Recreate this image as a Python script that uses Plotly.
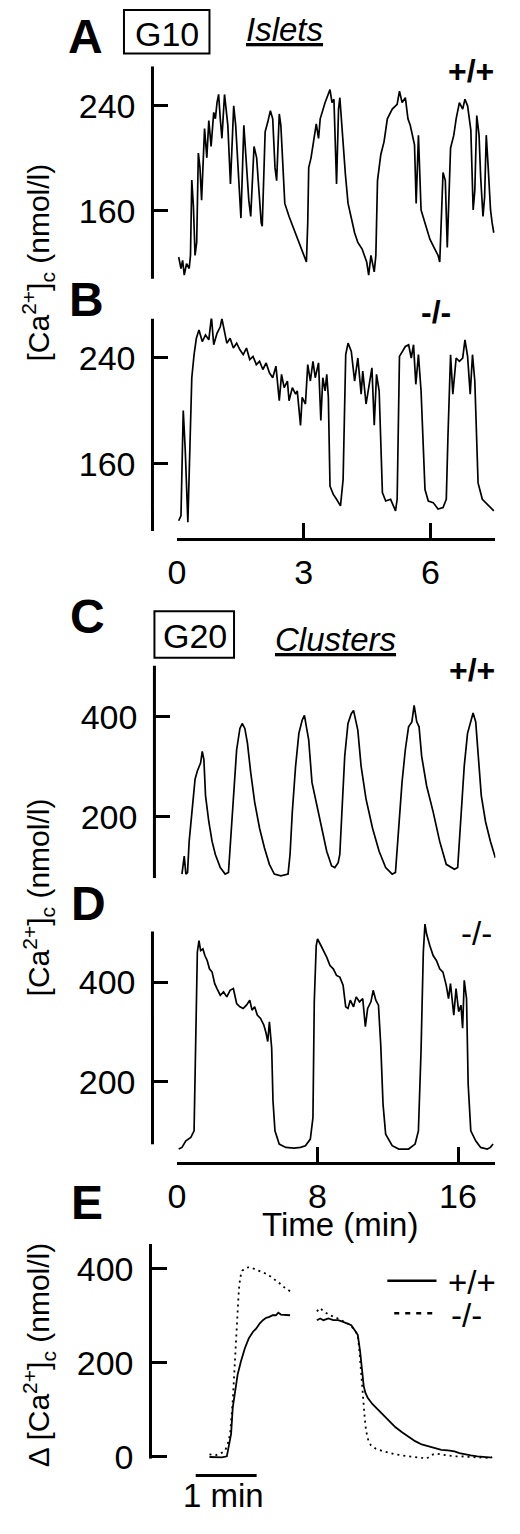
import plotly.graph_objects as go

W, H = 520, 1534
FONT = "Liberation Sans, Arial, Helvetica, sans-serif"

# ---------------- data (time in min, [Ca2+]c in nmol/l) ----------------
A_t = [0.039, 0.093, 0.132, 0.171, 0.225, 0.287, 0.318, 0.349, 0.388, 0.426, 0.465, 0.504, 0.543, 0.581,
       0.651, 0.705, 0.752, 0.806, 0.868, 0.907, 0.946, 0.984, 1.023, 1.062, 1.124, 1.163, 1.202, 1.264,
       1.341, 1.388, 1.465, 1.512, 1.581, 1.628, 1.698, 1.744, 1.822, 1.884, 1.992, 2.016, 2.085, 2.147,
       2.209, 2.264, 2.318, 2.357, 2.419, 2.457, 2.550, 2.651, 2.767, 2.884, 2.961, 3.000, 3.062, 3.093,
       3.116, 3.171, 3.233, 3.295, 3.349, 3.388, 3.504, 3.558, 3.620, 3.667, 3.713, 3.775, 3.822, 3.853,
       3.930, 3.984, 4.047, 4.109, 4.202, 4.279, 4.380, 4.488, 4.535, 4.589, 4.667, 4.705, 4.744, 4.822,
       4.899, 4.977, 5.093, 5.209, 5.264, 5.326, 5.403, 5.465, 5.519, 5.620, 5.659, 5.713, 5.775, 5.868,
       5.984, 6.101, 6.178, 6.217, 6.295, 6.349, 6.395, 6.473, 6.550, 6.605, 6.682, 6.760, 6.814, 6.876,
       6.953, 7.008, 7.047, 7.093, 7.147, 7.186, 7.240, 7.279, 7.318, 7.364, 7.419, 7.457, 7.496]
A_ca = [124.5, 115.8, 122.0, 110.8, 119.5, 115.8, 125.8, 183.4, 163.0, 125.8, 135.7, 204.0, 192.8, 168.0,
        222.6, 200.3, 228.8, 209.0, 235.0, 230.1, 242.5, 248.7, 230.1, 215.2, 248.7, 237.5, 225.1, 180.4,
        240.0, 225.1, 175.4, 154.3, 225.1, 200.3, 168.0, 155.5, 209.0, 200.3, 150.6, 148.1, 220.1, 227.6,
        236.3, 230.1, 192.8, 182.9, 233.8, 225.1, 165.5, 155.5, 145.6, 135.7, 128.2, 125.8, 120.8, 150.6,
        192.8, 200.3, 215.2, 226.3, 215.2, 230.1, 242.5, 247.5, 252.4, 242.5, 245.0, 180.4, 237.5, 246.2,
        210.2, 187.8, 165.5, 155.5, 143.1, 135.7, 130.7, 120.8, 110.8, 125.8, 113.3, 125.8, 182.9, 202.7,
        212.7, 230.1, 237.5, 241.2, 251.2, 242.5, 246.2, 230.1, 225.1, 210.2, 165.5, 217.6, 160.5, 150.6,
        138.2, 130.7, 125.8, 120.8, 189.1, 182.9, 131.9, 207.7, 217.6, 230.1, 242.5, 237.5, 245.0, 240.0,
        221.4, 160.5, 175.4, 232.6, 217.6, 185.4, 155.5, 170.5, 217.6, 192.8, 160.5, 150.6, 143.1]

B_t = [0.039, 0.093, 0.147, 0.194, 0.256, 0.302, 0.349, 0.403, 0.457, 0.519, 0.597, 0.674, 0.752, 0.814,
       0.868, 0.946, 1.023, 1.062, 1.124, 1.178, 1.256, 1.333, 1.411, 1.488, 1.566, 1.643, 1.721, 1.798,
       1.876, 1.953, 2.031, 2.109, 2.186, 2.264, 2.341, 2.419, 2.473, 2.535, 2.612, 2.651, 2.729, 2.806,
       2.845, 2.922, 2.961, 3.039, 3.093, 3.155, 3.217, 3.271, 3.349, 3.403, 3.450, 3.504, 3.543, 3.581,
       3.620, 3.698, 3.775, 3.868, 3.930, 3.992, 4.047, 4.124, 4.202, 4.279, 4.357, 4.395, 4.473, 4.550,
       4.612, 4.667, 4.721, 4.783, 4.860, 4.938, 5.054, 5.171, 5.209, 5.264, 5.326, 5.403, 5.481, 5.543,
       5.597, 5.651, 5.713, 5.775, 5.868, 5.946, 6.062, 6.178, 6.295, 6.372, 6.411, 6.473, 6.527, 6.605,
       6.682, 6.760, 6.814, 6.876, 6.938, 6.992, 7.047, 7.124, 7.225, 7.341, 7.457, 7.496]
B_ca = [117.0, 120.8, 200.3, 170.4, 115.8, 163.0, 225.1, 242.5, 254.9, 261.1, 252.4, 257.4, 253.7, 271.1,
        250.0, 258.6, 263.6, 269.8, 259.9, 251.2, 254.9, 247.5, 251.2, 246.2, 242.5, 247.5, 238.8, 241.2,
        235.0, 237.5, 231.3, 236.3, 228.8, 225.1, 233.8, 207.7, 227.6, 217.6, 222.6, 207.7, 217.6, 212.7,
        215.2, 189.1, 210.2, 205.2, 235.0, 222.6, 237.5, 225.1, 236.3, 192.8, 225.1, 215.2, 227.6, 210.2,
        143.1, 136.9, 133.2, 128.2, 148.1, 242.5, 251.2, 245.0, 222.6, 240.0, 212.7, 230.1, 205.2, 220.1,
        232.6, 189.1, 227.6, 215.2, 138.2, 131.9, 133.2, 124.5, 133.2, 241.2, 245.0, 248.7, 250.0, 240.0,
        250.0, 220.1, 242.5, 215.2, 140.6, 131.9, 130.7, 125.8, 127.0, 133.2, 180.4, 242.5, 212.7, 240.0,
        237.5, 240.0, 253.7, 241.2, 212.7, 242.5, 222.6, 145.6, 133.2, 129.5, 125.8, 124.5]

C_t = [0.280, 0.410, 0.503, 0.597, 0.690, 0.876, 1.026, 1.156, 1.343, 1.436, 1.529, 1.622, 1.809, 1.995,
       2.182, 2.462, 2.741, 2.928, 3.021, 3.207, 3.394, 3.580, 3.711, 3.860, 4.009, 4.196, 4.420, 4.699,
       4.979, 5.259, 5.538, 5.911, 6.322, 6.434, 6.564, 6.751, 6.937, 7.124, 7.254, 7.366, 7.497, 7.683,
       7.963, 8.242, 8.522, 8.802, 8.988, 9.175, 9.268, 9.361, 9.548, 9.734, 9.921, 10.051, 10.163, 10.294,
       10.480, 10.760, 11.133, 11.506, 11.879, 12.252, 12.438, 12.625, 12.811, 12.998, 13.184, 13.371,
       13.501, 13.650, 13.781, 13.930, 14.210, 14.583, 14.956, 15.329, 15.795, 15.981, 16.168, 16.354,
       16.541, 16.727, 16.858, 17.007, 17.138, 17.324, 17.567, 17.846, 18.126]
C_ca = [85.3, 121.3, 85.3, 88.5, 150.8, 229.5, 275.4, 291.8, 308.2, 331.2, 314.8, 242.6, 190.2, 150.8,
        124.6, 98.4, 85.3, 88.5, 137.7, 255.8, 334.4, 377.1, 386.9, 377.1, 347.6, 288.5, 229.5, 177.1,
        137.7, 104.9, 85.3, 82.0, 85.3, 124.6, 209.9, 301.7, 367.2, 393.5, 403.3, 380.3, 354.1, 268.9,
        223.0, 177.1, 131.2, 101.7, 98.4, 108.2, 124.6, 190.2, 321.3, 386.9, 406.6, 413.1, 396.7, 373.8,
        301.7, 236.1, 177.1, 131.2, 98.4, 85.3, 88.5, 190.2, 268.9, 334.4, 380.3, 390.2,
        423.0, 390.2, 380.3, 321.3, 262.3, 209.9, 150.8, 104.9, 95.1, 98.4, 190.2, 301.7,
        367.2, 393.5, 407.9, 390.2, 334.4, 242.6, 190.2, 150.8, 118.1]

D_t = [0.093, 0.280, 0.503, 0.783, 0.970, 1.063, 1.156, 1.249, 1.343, 1.473, 1.585, 1.716, 1.846, 1.995,
       2.145, 2.275, 2.462, 2.648, 2.834, 3.021, 3.207, 3.394, 3.580, 3.767, 3.953, 4.140, 4.270, 4.420,
       4.569, 4.755, 4.942, 5.072, 5.166, 5.259, 5.389, 5.464, 5.576, 5.818, 6.191, 6.657, 7.030, 7.310,
       7.590, 7.739, 7.814, 7.925, 8.000, 8.149, 8.336, 8.522, 8.709, 8.895, 9.082, 9.268, 9.455, 9.604,
       9.734, 9.865, 10.051, 10.200, 10.387, 10.573, 10.723, 10.853, 11.040, 11.170, 11.319, 11.469,
       11.599, 11.730, 11.879, 12.252, 12.625, 13.184, 13.557, 13.744, 13.893, 14.023, 14.117, 14.210,
       14.396, 14.583, 14.769, 14.956, 15.142, 15.329, 15.459, 15.571, 15.758, 15.888, 16.037, 16.168,
       16.261, 16.354, 16.485, 16.578, 16.727, 17.007, 17.287, 17.660, 17.846, 17.995]
D_ca = [65.5, 68.8, 82.1, 88.7, 101.9, 260.9, 459.6, 482.8, 462.9, 466.2, 453.0, 443.1, 426.5, 419.9,
        396.7, 386.8, 373.5, 380.1, 370.2, 383.4, 386.8, 357.0, 350.3, 347.0, 353.6, 363.6, 343.7, 350.3,
        333.8, 327.1, 313.9, 297.3, 280.8, 320.5, 267.5, 161.6, 101.9, 75.5, 68.8, 67.5, 68.8, 72.2,
        85.4, 128.5, 360.3, 472.8, 486.1, 476.1, 462.9, 449.7, 433.1, 426.5, 413.2, 409.9, 393.4, 350.3,
        347.0, 363.6, 350.3, 370.2, 360.3, 366.9, 310.6, 347.0, 360.3, 383.4, 363.6, 353.6,
        274.2, 154.9, 95.3, 72.2, 65.5, 65.5, 75.5, 101.9, 260.9, 459.6, 515.9, 496.0,
        472.8, 453.0, 443.1, 426.5, 419.9, 393.4, 366.9, 396.7, 333.8, 386.8, 340.4, 353.6,
        307.3, 403.3, 366.9, 194.7, 101.9, 82.1, 68.8, 65.5, 68.8, 75.5]

# Panel E: mean delta [Ca2+]c, time in min (None = gap between the two segments)
E_t = [0.000, 0.097, 0.177, 0.258, 0.301, 0.339, 0.382, 0.409, 0.435, 0.462, 0.484, 0.505, 0.538, 0.581,
       0.634, 0.688, 0.742, 0.823, 0.903, 0.984, 1.065, 1.145, 1.226, 1.306, 1.344, 1.55,
       1.763, 1.817, 1.871, 1.925, 1.978, 2.086, 2.194, 2.301, 2.382, 2.435, 2.462, 2.489, 2.516, 2.543,
       2.570, 2.608, 2.651, 2.731, 2.839, 2.946, 3.054, 3.161, 3.269, 3.376, 3.484, 3.565, 3.618, 3.672,
       3.726, 3.806, 3.914, 4.022, 4.129, 4.237, 4.344, 4.452, 4.559, 4.640]
E_ko = [4.9, 2.8, 6.3, 13.3, 27.4, 48.4, 118.6, 174.7, 237.9, 308.1, 357.2, 381.8, 395.8, 400.7,
        402.8, 402.8, 399.3, 395.8, 390.9, 385.3, 378.3, 369.8, 360.7, 353.7, 350.2, None,
        309.5, 316.5, 309.5, 304.6, 301.1, 295.5, 288.4, 281.4, 269.5, 259.0, 223.9, 174.7, 139.7, 90.5,
        55.4, 34.4, 23.9, 16.8, 11.9, 7.7, 4.9, 2.8, 0.7, -0.7, -2.8, -4.2, 0.7, 4.9,
        6.3, 4.9, 2.8, 0.7, 0.7, -0.7, -2.1, -2.1, -2.8, -0.7]
E_wt_t = [0.000, 0.097, 0.204, 0.285, 0.323, 0.355, 0.382, 0.419, 0.462, 0.516, 0.581, 0.645, 0.715, 0.769,
          0.823, 0.876, 0.930, 0.984, 1.038, 1.091, 1.129, 1.172, 1.226, 1.290, 1.323, 1.55,
          1.763, 1.817, 1.871, 1.952, 2.032, 2.113, 2.194, 2.274, 2.328, 2.382, 2.435, 2.473, 2.505, 2.532,
          2.559, 2.597, 2.677, 2.758, 2.839, 2.946, 3.054, 3.161, 3.269, 3.376, 3.484, 3.591, 3.699, 3.806,
          3.914, 4.022, 4.102, 4.183, 4.290, 4.398, 4.505, 4.586, 4.640]
E_wt = [-0.7, -1.4, -1.4, 0.7, 27.4, 48.4, 104.6, 139.7, 174.7, 202.8, 230.9, 251.9, 266.0, 273.0,
        283.5, 290.5, 295.5, 297.6, 301.1, 301.1, 306.7, 302.5, 302.5, 301.1, 301.1, None,
        290.5, 294.1, 290.5, 294.1, 290.5, 290.5, 287.0, 283.5, 280.0, 269.5, 259.0, 223.9, 174.7, 150.2,
        136.1, 125.6, 111.6, 101.1, 90.5, 76.5, 62.5, 51.9, 41.4, 33.0, 26.0, 21.8, 18.2, 14.7,
        13.3, 11.2, 7.7, 4.9, 2.8, 0.7, -0.7, -0.7, -2.1]

# tick labels
ticks_islets = [160, 240]
ticks_clusters = [200, 400]
ticks_delta = [0, 200, 400]
xt_islets = [0, 3, 6]
xt_clusters = [0, 8, 16]


# ---------------- layout helpers (pixel -> paper) ----------------
def px(x):
    return x / W


def py(y):
    return 1 - y / H


fig = go.Figure()
line = dict(color="black", width=1.7)
fig.add_trace(go.Scatter(x=A_t, y=A_ca, mode="lines", line=line, xaxis="x", yaxis="y"))
fig.add_trace(go.Scatter(x=B_t, y=B_ca, mode="lines", line=line, xaxis="x2", yaxis="y2"))
fig.add_trace(go.Scatter(x=C_t, y=C_ca, mode="lines", line=line, xaxis="x3", yaxis="y3"))
fig.add_trace(go.Scatter(x=D_t, y=D_ca, mode="lines", line=line, xaxis="x4", yaxis="y4"))
fig.add_trace(go.Scatter(x=E_wt_t, y=E_wt, mode="lines", line=dict(color="black", width=1.8),
                         xaxis="x5", yaxis="y5"))
fig.add_trace(go.Scatter(x=E_t, y=E_ko, mode="lines", line=dict(color="black", width=1.8, dash="2px,4px"),
                         xaxis="x5", yaxis="y5"))

tickfont = dict(family=FONT, size=34, color="black")
ycommon = dict(anchor="free", showline=False, showgrid=False, zeroline=False, ticks="inside",
               ticklen=15, tickwidth=3, tickcolor="black", tickfont=tickfont, ticklabelstandoff=17,
               fixedrange=True)
xhidden = dict(visible=False, showgrid=False, zeroline=False, fixedrange=True)
xshown = dict(anchor="free", showline=True, linewidth=3, linecolor="black", showgrid=False,
              zeroline=False, ticks="inside", ticklen=15, tickwidth=3, tickcolor="black",
              tickfont=tickfont, ticklabelstandoff=2, fixedrange=True)

xd = [px(171), px(495)]
yrA = [107.9, 270.2]
yrB = [109.2, 269.9]
yrC = [77.2, 503.0]
yrD = [59.4, 524.8]
yrE = [-4.2, 452.6]

fig.update_layout(
    width=W, height=H, autosize=False,
    margin=dict(l=0, r=0, t=0, b=0),
    paper_bgcolor="white", plot_bgcolor="rgba(0,0,0,0)",
    showlegend=False,
    font=dict(family=FONT, color="black"),
    xaxis=dict(domain=xd, range=[0, 7.535], anchor="y", **xhidden),
    yaxis=dict(domain=[py(282), py(67)], range=yrA, position=px(146), tickvals=ticks_islets, **ycommon),
    xaxis2=dict(domain=xd, range=[0, 7.535], position=py(545), tickvals=xt_islets, **xshown),
    yaxis2=dict(domain=[py(537), py(322)], range=yrB, position=px(146), tickvals=ticks_islets, **ycommon),
    xaxis3=dict(domain=xd, range=[0, 18.13], anchor="y3", **xhidden),
    yaxis3=dict(domain=[py(888), py(673)], range=yrC, position=px(148), tickvals=ticks_clusters, **ycommon),
    xaxis4=dict(domain=xd, range=[0, 18.13], position=py(1176), tickvals=xt_clusters, **xshown),
    yaxis4=dict(domain=[py(1165), py(930)], range=yrD, position=px(146), tickvals=ticks_clusters, **ycommon),
    xaxis5=dict(domain=[px(144), px(495)], range=[-0.968, 4.694], anchor="y5", **xhidden),
    yaxis5=dict(domain=[py(1475), py(1258)], range=yrE, position=px(144), tickvals=ticks_delta, **ycommon),
)

shapes = []
# y-axis lines (drawn as shapes so traces may overshoot them)
for xpix, yref, lo, hi in [(146, "y", yrA[0], yrA[1]), (146, "y2", yrB[0], yrB[1]),
                           (148, "y3", yrC[0], yrC[1]), (146, "y4", 75, 501),
                           (144, "y5", yrE[0], yrE[1])]:
    shapes.append(dict(type="line", xref="paper", yref=yref, x0=px(xpix), x1=px(xpix), y0=lo, y1=hi,
                       line=dict(color="black", width=3)))
# condition boxes
shapes.append(dict(type="rect", xref="paper", yref="paper", x0=px(117), x1=px(204), y0=py(54), y1=py(10),
                   line=dict(color="black", width=2)))
shapes.append(dict(type="rect", xref="paper", yref="paper", x0=px(148), x1=px(229), y0=py(665), y1=py(618),
                   line=dict(color="black", width=2)))
# scale bar 1 min
shapes.append(dict(type="line", xref="x5", yref="paper", x0=-0.226, x1=0.774, y0=py(1492), y1=py(1492),
                   line=dict(color="black", width=3)))
# legend samples
shapes.append(dict(type="line", xref="paper", yref="paper", x0=px(385), x1=px(435), y0=py(1295), y1=py(1295),
                   line=dict(color="black", width=2.5)))
shapes.append(dict(type="line", xref="paper", yref="paper", x0=px(392), x1=px(435), y0=py(1328), y1=py(1328),
                   line=dict(color="black", width=2.5, dash="5px,6px")))
fig.update_layout(shapes=shapes)


def ann(text, x, y, size, xref="paper", **kw):
    return dict(text=text, x=x if xref != "paper" else px(x), y=py(y), xref=xref, yref="paper",
                showarrow=False, xanchor="center", yanchor="middle",
                font=dict(family=FONT, size=size, color="black"), **kw)


annotations = [
    ann("<b>A</b>", 78, 37, 48),
    ann("<b>B</b>", 79, 303, 48),
    ann("<b>C</b>", 80, 623, 48),
    ann("<b>D</b>", 81, 914, 48),
    ann("<b>E</b>", 79, 1216, 48),
    ann("G10", 161, 34, 34),
    ann("G20", 189, 643, 34),
    ann("<i><u>Islets</u></i>", 280, 30, 33),
    ann("<i><u>Clusters</u></i>", 332, 647, 33),
    ann("<b>+/+</b>", 470, 72, 32),
    ann("<b>-/-</b>", 435, 315, 32),
    ann("<b>+/+</b>", 471, 678, 32),
    ann("-/-", 476, 944, 33),
    ann("Time (min)", 337, 1238, 33),
    ann("1 min", 0.23, 1512, 33, xref="x5"),
    ann("+/+", 471, 1297, 33),
    ann("-/-", 466, 1330, 33),
    ann("[Ca<sup>2+</sup>]<sub>c</sub> (nmol/l)", 30, 265, 30, textangle=-90),
    ann("[Ca<sup>2+</sup>]<sub>c</sub> (nmol/l)", 30, 907, 30, textangle=-90),
    ann("Δ [Ca<sup>2+</sup>]<sub>c</sub> (nmol/l)", 30, 1370, 30, textangle=-90),
]
fig.update_layout(annotations=annotations)

# the page itself: no default body margin, no scrollbars, so the figure fills the window exactly
fig.write_html("out.html", config={"staticPlot": True},
               post_script="document.body.style.margin='0';document.documentElement.style.overflow='hidden';")
